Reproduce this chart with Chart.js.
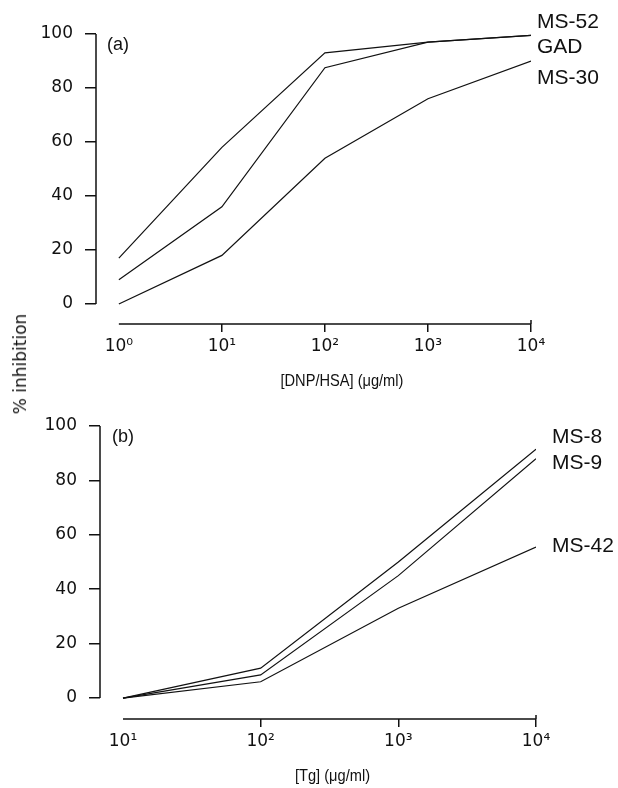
<!DOCTYPE html>
<html>
<head>
<meta charset="utf-8">
<script src="https://cdn.jsdelivr.net/npm/chart.js@4.4.1/dist/chart.umd.min.js"></script>
<style>
  html, body { margin: 0; padding: 0; background: #fff; }
  #wrap { position: relative; width: 618px; height: 788px; overflow: hidden; }
  canvas { position: absolute; left: 0; }
  #chartA { top: 0; }
  #chartB { top: 395px; }
  #ytitle {
    position: absolute; left: 20px; top: 364px;
    transform: translate(-50%, -50%) rotate(-90deg);
    font: 17px "DejaVu Sans", sans-serif; color: #111; white-space: nowrap;
  }
</style>
</head>
<body>
<div id="wrap">
  <canvas id="chartA" width="618" height="400"></canvas>
  <canvas id="chartB" width="618" height="393"></canvas>
  <div id="ytitle">% inhibition</div>
</div>
<script>
// panel (a): inhibition by DNP/HSA
const dosesA = [1, 10, 100, 1000, 10000];
const ms52A = [17, 58, 93, 97, 99.5];
const gadA = [9, 36, 87.5, 97, 99.5];
const ms30A = [0, 18, 54, 76, 90];

// panel (b): inhibition by Tg
const dosesB = [10, 100, 1000, 10000];
const ms8B = [0, 11, 50, 91.5];
const ms9B = [0, 8.5, 45, 88];
const ms42B = [0, 6, 33, 55.5];

const yTicks = [0, 20, 40, 60, 80, 100];
const xTicksA = [1, 10, 100, 1000, 10000];
const xTicksB = [10, 100, 1000, 10000];
const xTickLabels = { 1: "10⁰", 10: "10¹", 100: "10²", 1000: "10³", 10000: "10⁴" };

const INK = "#111";

// draws the detached axis lines and the text bits around the plot
const annotPlugin = {
  id: "annot",
  afterDraw(chart, args, opts) {
    const { ctx, chartArea } = chart;
    const x = chart.scales.x, y = chart.scales.y;
    const xFirst = x.getPixelForValue(opts.xTicks[0]);
    const xLast = x.getPixelForValue(opts.xTicks[opts.xTicks.length - 1]);
    ctx.save();
    ctx.strokeStyle = INK;
    ctx.lineWidth = 1.5;
    ctx.beginPath();
    ctx.moveTo(chartArea.left, y.getPixelForValue(0));
    ctx.lineTo(chartArea.left, y.getPixelForValue(100));
    ctx.moveTo(xFirst, chartArea.bottom);
    ctx.lineTo(xLast, chartArea.bottom);
    ctx.moveTo(xLast, chartArea.bottom - 4);
    ctx.lineTo(xLast, chartArea.bottom);
    ctx.stroke();

    ctx.fillStyle = INK;
    ctx.textBaseline = "middle";
    // panel letter
    ctx.font = '18px "Liberation Sans", Arial, sans-serif';
    ctx.textAlign = "left";
    ctx.fillText(opts.panel, chartArea.left + opts.panelDx, y.getPixelForValue(100) + 11);

    // series names at line ends
    ctx.font = '21px "Liberation Sans", Arial, sans-serif';
    chart.data.datasets.forEach((ds, i) => {
      const pts = chart.getDatasetMeta(i).data;
      const p = pts[pts.length - 1];
      const off = opts.labelOffsets[i];
      ctx.fillText(ds.label, p.x + off[0], p.y + off[1]);
    });

    // x axis title, a bit condensed like the original typeface
    const tx = (xFirst + xLast) / 2 + opts.xTitleDx;
    const ty = chartArea.bottom + 57;
    ctx.font = '17px "Liberation Sans", Arial, sans-serif';
    ctx.textAlign = "center";
    ctx.translate(tx, ty);
    ctx.scale(0.86, 1);
    ctx.fillText(opts.xTitle, 0, 0);
    ctx.restore();
  }
};

function makePanel(id, doses, series, names, cfg) {
  const datasets = series.map((vals, i) => ({
    label: names[i],
    data: vals.map((v, j) => ({ x: doses[j], y: v })),
    borderColor: INK,
    borderWidth: 1.2,
    pointRadius: 0,
    fill: false,
    tension: 0
  }));
  return new Chart(document.getElementById(id), {
    type: "line",
    data: { datasets },
    plugins: [annotPlugin],
    options: {
      responsive: false,
      animation: false,
      devicePixelRatio: 1,
      layout: { padding: { left: 0, right: cfg.right, top: cfg.top, bottom: 0 } },
      plugins: {
        legend: { display: false },
        tooltip: { enabled: false },
        annot: {
          panel: cfg.panel,
          panelDx: cfg.panelDx,
          xTicks: cfg.xTicks,
          xTitle: cfg.xTitle,
          xTitleDx: cfg.xTitleDx,
          labelOffsets: cfg.labelOffsets
        }
      },
      scales: {
        x: {
          type: "logarithmic",
          min: cfg.xMin,
          max: 10000,
          border: { display: false },
          grid: {
            drawOnChartArea: false,
            tickLength: 8,
            lineWidth: 1.5,
            color: (c) => (c.tick && c.tick.value === cfg.xTicks[0] ? "rgba(0,0,0,0)" : INK)
          },
          ticks: {
            padding: 4,
            color: INK,
            font: { family: "DejaVu Sans", size: 17 },
            autoSkip: false,
            maxRotation: 0,
            callback: (v) => xTickLabels[v] || ""
          },
          afterBuildTicks: (s) => { s.ticks = cfg.xTicks.map((v) => ({ value: v })); },
          afterFit: (s) => { s.height = cfg.xHeight; }
        },
        y: {
          type: "linear",
          min: cfg.yMin,
          max: 100,
          border: { display: false },
          grid: { drawOnChartArea: false, tickLength: 11, lineWidth: 1.5, color: INK },
          ticks: {
            padding: 12,
            color: INK,
            font: { family: "DejaVu Sans", size: 17 }
          },
          afterBuildTicks: (s) => { s.ticks = yTicks.map((v) => ({ value: v })); },
          afterFit: (s) => { s.width = cfg.yWidth; }
        }
      }
    }
  });
}

makePanel("chartA", dosesA, [ms52A, gadA, ms30A], ["MS-52", "GAD", "MS-30"], {
  panel: "(a)", panelDx: 11,
  xTicks: xTicksA, xMin: Math.pow(10, -0.2),
  yMin: -7.4, yWidth: 96, xHeight: 76, right: 87, top: 34,
  xTitle: "[DNP/HSA] (μg/ml)", xTitleDx: 17,
  labelOffsets: [[6, -13], [6, 12], [6, 17]]
});

makePanel("chartB", dosesB, [ms8B, ms9B, ms42B], ["MS-8", "MS-9", "MS-42"], {
  panel: "(b)", panelDx: 12,
  xTicks: xTicksB, xMin: Math.pow(10, 0.833),
  yMin: -7.7, yWidth: 100, xHeight: 69, right: 82, top: 31,
  xTitle: "[Tg] (μg/ml)", xTitleDx: 3,
  labelOffsets: [[16, -12], [16, 5], [16, -1]]
});
</script>
</body>
</html>
